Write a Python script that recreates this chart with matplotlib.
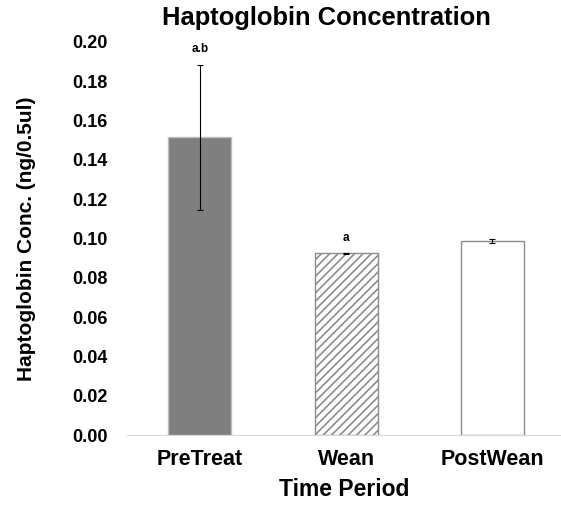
import matplotlib.pyplot as plt
import numpy as np

plt.rcParams['font.family'] = ['Liberation Sans', 'DejaVu Sans']
plt.rcParams['hatch.linewidth'] = 1.2

categories = ['PreTreat', 'Wean', 'PostWean']
values = [0.1515, 0.0925, 0.0987]
errors = [0.037, 0.0003, 0.001]
letters = ['a.b', 'a', '']
letter_y = [0.1965, 0.1005, None]

fig = plt.figure(figsize=(5.61, 5.12), dpi=100)
ax = fig.add_axes([0.226, 0.150, 0.774, 0.768])

x = np.arange(len(categories))
faces = ['#7f7f7f', 'white', 'white']
edges = ['#bfbfbf', '#8c8c8c', '#8c8c8c']
hatches = [None, '////', None]
for i in range(len(categories)):
    ax.bar(x[i], values[i], width=0.43, color=faces[i], edgecolor=edges[i],
           linewidth=1.0, hatch=hatches[i], zorder=2)
ax.errorbar(x, values, yerr=errors, fmt='none', ecolor='black', elinewidth=0.8,
            capsize=2.5, capthick=0.8, zorder=3)

for i, t in enumerate(letters):
    if t:
        ax.text(x[i], letter_y[i], t, ha='center', va='center', fontsize=8.5, fontweight='bold')

ax.set_xlim(-0.5, 2.47)
ax.set_ylim(0, 0.20)
ticks = np.arange(0, 0.201, 0.02)
ax.set_yticks(ticks)
ax.set_yticklabels([f'{v:.2f}' for v in ticks], fontsize=13, fontweight='bold')
ax.set_xticks(x)
ax.set_xticklabels(categories, fontsize=15.5, fontweight='bold')
ax.tick_params(axis='both', length=0)
ax.tick_params(axis='y', pad=14)
ax.tick_params(axis='x', pad=10)

for s in ['top', 'right', 'left']:
    ax.spines[s].set_visible(False)
ax.spines['bottom'].set_color('#d9d9d9')

ax.set_xlabel('Time Period', fontsize=16.5, fontweight='bold', labelpad=6)
ax.set_ylabel('Haptoglobin Conc. (ng/0.5ul)', fontsize=15, fontweight='bold', labelpad=26)
ax.set_title('Haptoglobin Concentration', fontsize=18.4, fontweight='bold', x=0.46, pad=12)

fig.savefig('out.png', dpi=100)
